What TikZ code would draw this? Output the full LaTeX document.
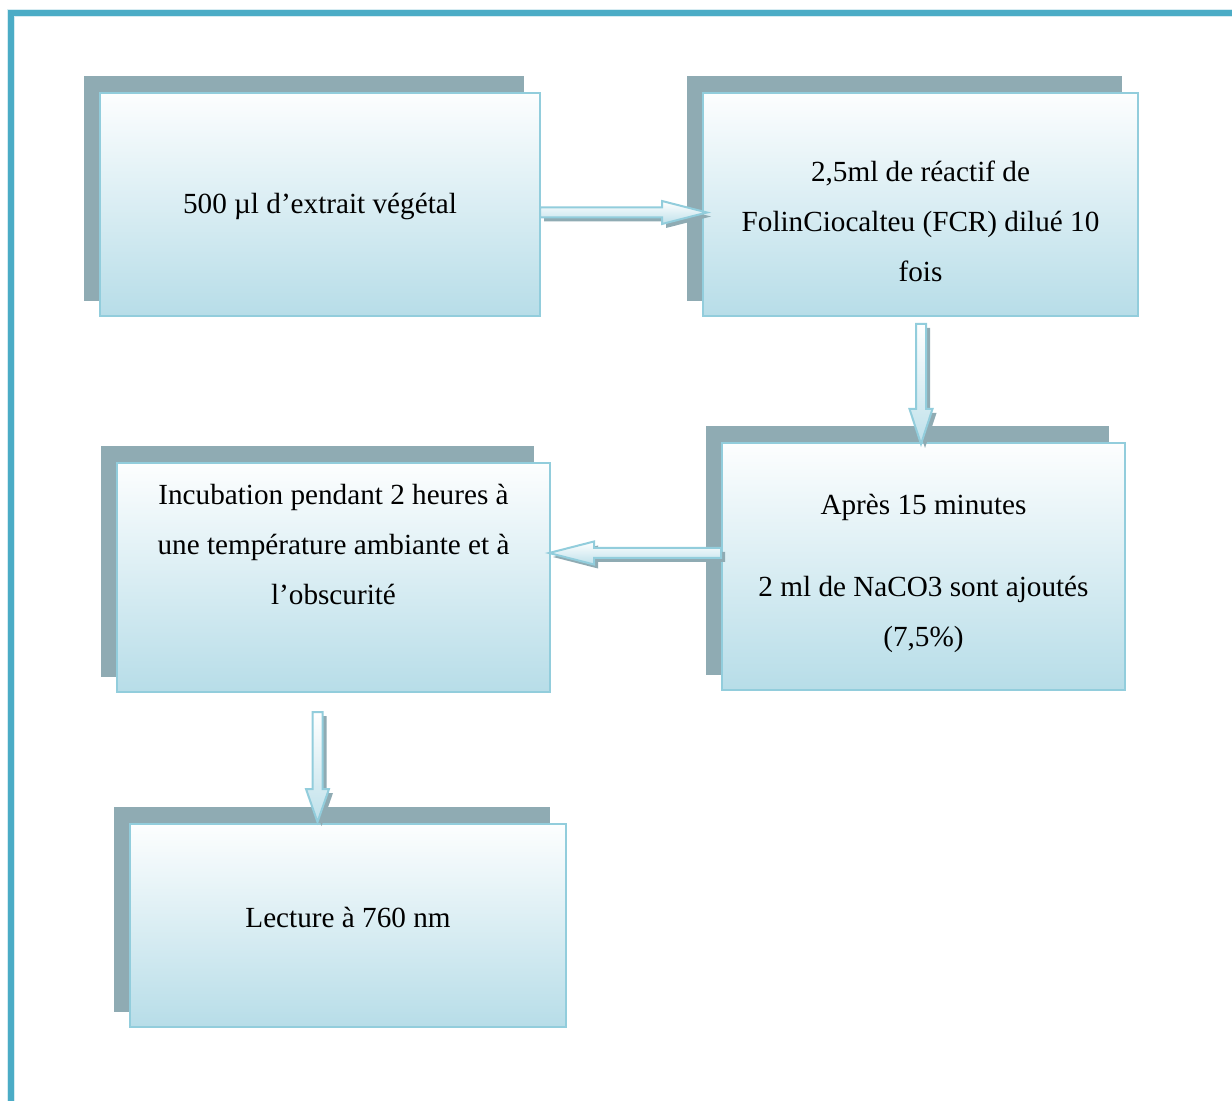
\documentclass[tikz,border=0pt]{standalone}
\usepackage{fontspec}
\setmainfont{Liberation Serif}
\usetikzlibrary{calc,fit,backgrounds}

\definecolor{framecol}{RGB}{75,172,198}
\definecolor{framelight}{RGB}{214,236,242}
\definecolor{boxedge}{RGB}{146,205,220}
\definecolor{boxblue}{RGB}{183,221,232}
\definecolor{shadowgray}{RGB}{143,171,179}

\tikzset{
  stepbox/.style={draw=boxedge, line width=1pt, top color=white!97!boxblue,
    bottom color=boxblue, inner sep=0pt},
  steptext/.style={font=\fontsize{14.6}{25}\selectfont, align=center,
    text=black, inner sep=0pt},
  arrowbody/.style={draw=boxedge, line width=1pt, top color=white,
    bottom color=boxblue!90, line join=miter},
  arrowshade/.style={fill=shadowgray},
  boxshade/.style={fill=shadowgray},
}

% hollow block arrow from #1 to #2 with a head of length #3
\newcommand\flowarrow[3]{%
  \coordinate (#1#2h) at ($(#2)!#3!(#1)$);
  \fill[arrowshade, transform canvas={xshift=2pt,yshift=-2pt}]
    ($(#1)!2.5pt!90:(#2)$) -- ($(#1#2h)!2.5pt!90:(#2)$) -- ($(#1#2h)!5.75pt!90:(#2)$)
    -- (#2) -- ($(#1#2h)!5.75pt!-90:(#2)$) -- ($(#1#2h)!2.5pt!-90:(#2)$)
    -- ($(#1)!2.5pt!-90:(#2)$) -- cycle;
  \path[arrowbody]
    ($(#1)!2.5pt!90:(#2)$) -- ($(#1#2h)!2.5pt!90:(#2)$) -- ($(#1#2h)!5.75pt!90:(#2)$)
    -- (#2) -- ($(#1#2h)!5.75pt!-90:(#2)$) -- ($(#1#2h)!2.5pt!-90:(#2)$)
    -- ($(#1)!2.5pt!-90:(#2)$) -- cycle;
}

% grey block behind a box, offset up and to the left
\newcommand\boxback[1]{%
  \fill[boxshade] ($(#1.south west)+(-15,-16)$) rectangle ($(#1.north east)+(-17,-16)$);
}

\begin{document}
\begin{tikzpicture}[x=0.5pt, y=-0.5pt]
  \useasboundingbox (0,0) rectangle (1232,1101);

  % page frame
  \fill[framelight] (7,9) rectangle (1232,17);
  \fill[framelight] (7,9) rectangle (15,1101);
  \fill[framecol] (8,10) rectangle (1232,16);
  \fill[framecol] (8,10) rectangle (14,1101);

  % boxes
  \node[stepbox, fit={(100,93) (540,316)}] (b1) {};
  \node[stepbox, fit={(703,93) (1138,316)}] (b2) {};
  \node[stepbox, fit={(722,443) (1125,690)}] (b3) {};
  \node[stepbox, fit={(117,463) (550,692)}] (b4) {};
  \node[stepbox, fit={(130,824) (566,1027)}] (b5) {};

  \begin{pgfonlayer}{background}
    \boxback{b1}
    \boxback{b2}
    \boxback{b3}
    \boxback{b4}
    \boxback{b5}
  \end{pgfonlayer}

  % texts
  \node[steptext] (t1) at ($(b1.center)+(0,2)$) {500 µl d’extrait végétal};
  \node[steptext] (t2) at ($(b2.center)+(0,16.5)$)
    {2,5ml de réactif de\\FolinCiocalteu (FCR) dilué 10\\fois};
  \node[steptext] (t3) at ($(b3.center)+(0,7)$)
    {Après 15 minutes\\[16pt]2 ml de NaCO3 sont ajoutés\\(7,5\%)};
  \node[steptext] (t4) at ($(b4.center)+(0,-33.5)$)
    {Incubation pendant 2 heures à\\une température ambiante et à\\l’obscurité};
  \node[steptext] (t5) at ($(b5.center)+(0,-8.5)$) {Lecture à 760 nm};

  % arrow end points
  \coordinate (a1s) at ($(b1.east)+(-1,8)$);
  \coordinate (a1t) at ($(b2.west)+(5,8)$);
  \coordinate (a2s) at ($(b2.south)+(0.5,7)$);
  \coordinate (a2t) at ($(b3.north)+(-2.5,2)$);
  \coordinate (a3s) at ($(b3.west)+(0,-13.5)$);
  \coordinate (a3t) at ($(b4.east)+(-2,-24.5)$);
  \coordinate (a4s) at ($(b4.south)+(-16,19)$);
  \coordinate (a4t) at ($(b5.north)+(-30.5,-1)$);

  \flowarrow{a1s}{a1t}{22.5pt}
  \flowarrow{a2s}{a2t}{17.5pt}
  \flowarrow{a3s}{a3t}{22.5pt}
  \flowarrow{a4s}{a4t}{16.5pt}
\end{tikzpicture}
\end{document}
